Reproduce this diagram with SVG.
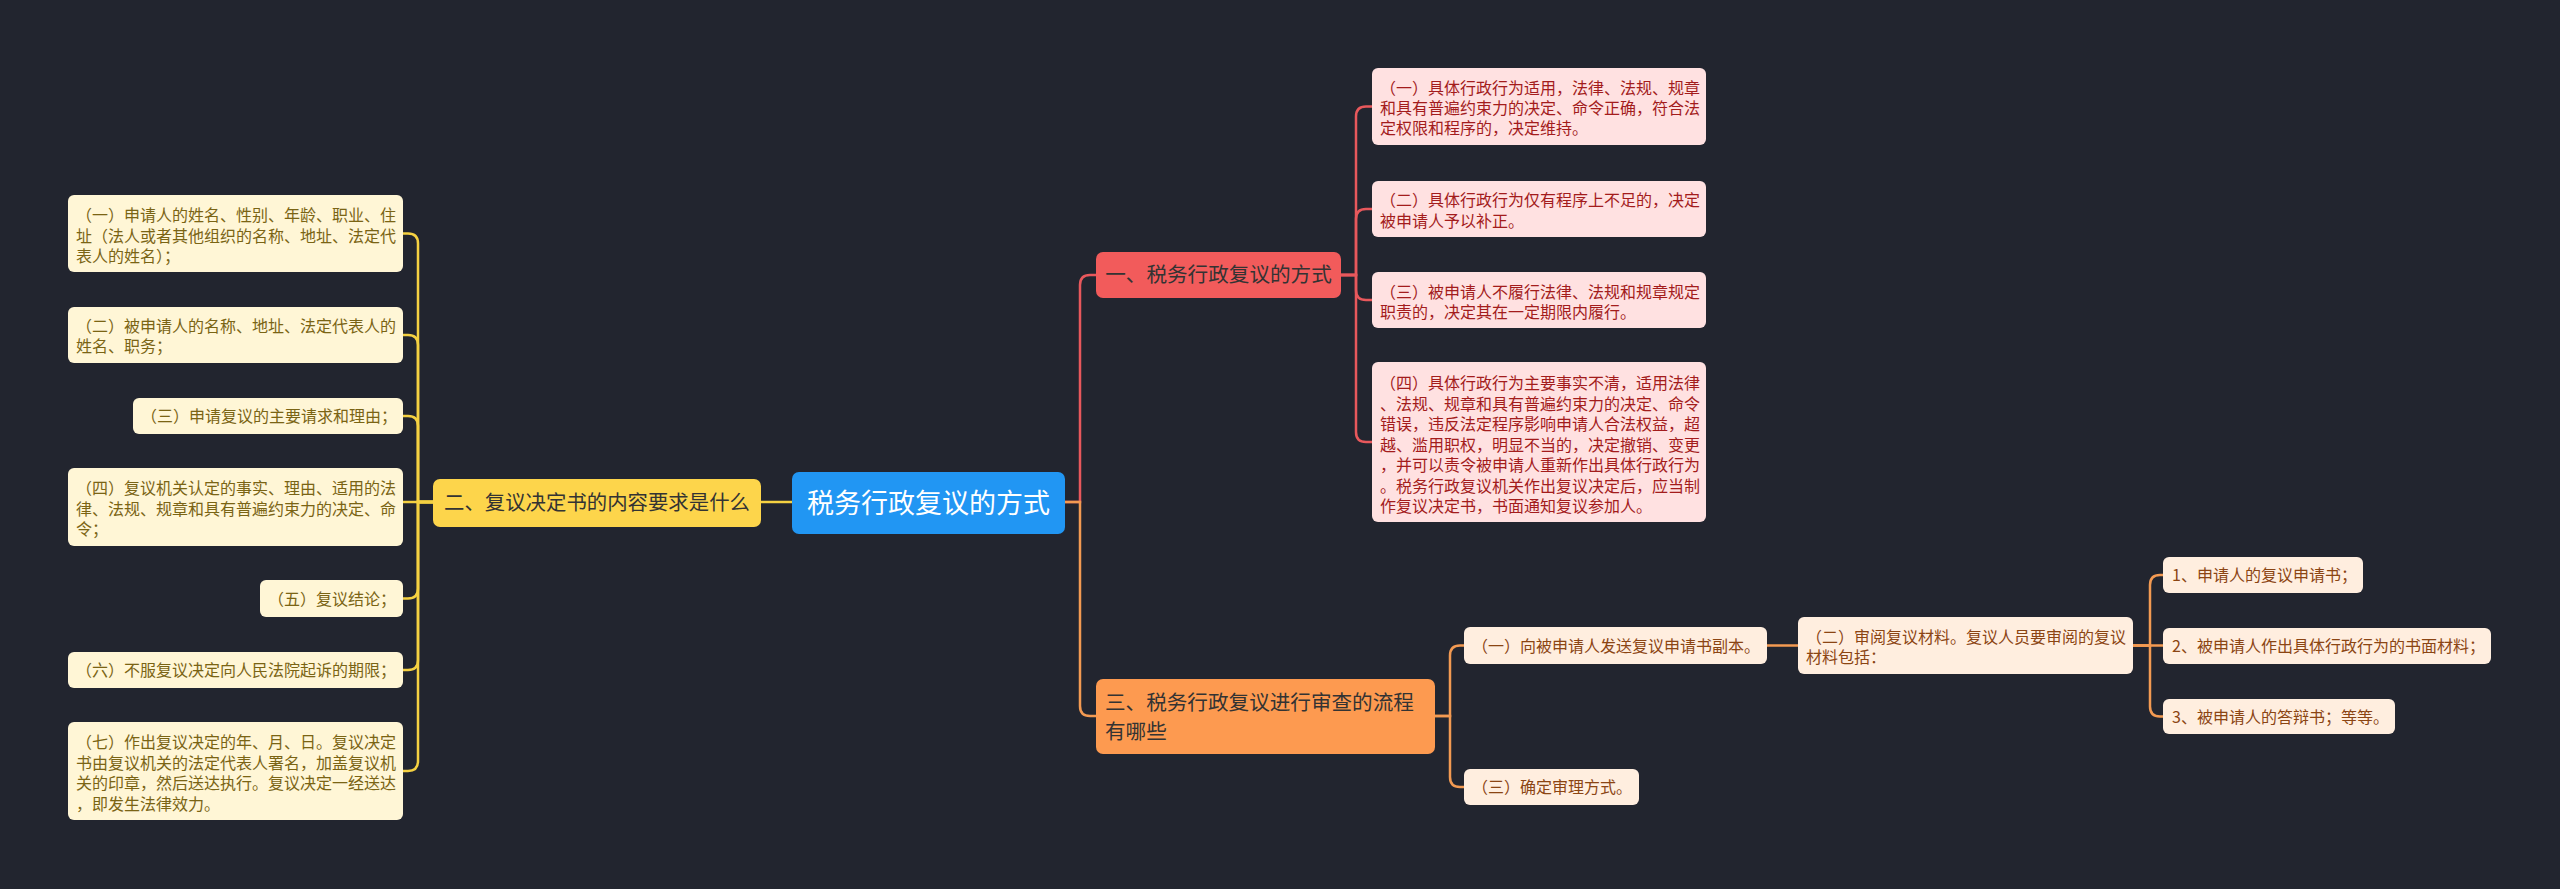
<svg xmlns="http://www.w3.org/2000/svg" width="2560" height="889" viewBox="0 0 2560 889">
<style>
text{font-family:"Noto Sans CJK SC","Noto Sans",sans-serif;}
.ly{fill:#fff6d6;}
.lr{fill:#ffe1e1;}
.lo{fill:#ffeedf;}
.ty{fill:#7a6414;font-size:16px;}
.tr{fill:#a31c1c;font-size:16px;}
.to{fill:#8b4513;font-size:16px;}
.cy{fill:none;stroke:#f5d142;stroke-width:2.5;}
.cr{fill:none;stroke:#e8585c;stroke-width:2.5;}
.co{fill:none;stroke:#f39a52;stroke-width:2.5;}
</style>
<rect x="0" y="0" width="2560" height="889" fill="#22252f"/>
<g id="connectors">
<path class="cy" d="M792,502 H761"/>
<path class="cy" d="M433,502 H418 V243.5 Q418,233.5 408,233.5 H403"/>
<path class="cy" d="M433,502 H418 V345 Q418,335 408,335 H403"/>
<path class="cy" d="M433,502 H418 V426 Q418,416 408,416 H403"/>
<path class="cy" d="M433,502 H403"/>
<path class="cy" d="M433,502 H418 V588.5 Q418,598.5 408,598.5 H403"/>
<path class="cy" d="M433,502 H418 V660 Q418,670 408,670 H403"/>
<path class="cy" d="M433,502 H418 V761 Q418,771 408,771 H403"/>
<path class="cr" d="M1065,502 H1080 V285 Q1080,275 1090,275 H1096"/>
<path class="co" d="M1065,502 H1080 V706 Q1080,716 1090,716 H1096"/>
<path class="cr" d="M1341,275 H1356 V116.5 Q1356,106.5 1366,106.5 H1372"/>
<path class="cr" d="M1341,275 H1356 V219 Q1356,209 1366,209 H1372"/>
<path class="cr" d="M1341,275 H1356 V290 Q1356,300 1366,300 H1372"/>
<path class="cr" d="M1341,275 H1356 V432 Q1356,442 1366,442 H1372"/>
<path class="co" d="M1435,716 H1450 V655.5 Q1450,645.5 1460,645.5 H1464"/>
<path class="co" d="M1435,716 H1450 V777 Q1450,787 1460,787 H1464"/>
<path class="co" d="M1767,645.5 H1798"/>
<path class="co" d="M2133,645.5 H2150 V585 Q2150,575 2160,575 H2163"/>
<path class="co" d="M2133,645.5 H2163"/>
<path class="co" d="M2133,645.5 H2150 V706.5 Q2150,716.5 2160,716.5 H2163"/>
</g>
<g id="root">
<rect x="792" y="472" width="273" height="62" rx="7" fill="#2196f3"/>
<text x="928.5" y="513" font-size="27" fill="#ffffff" text-anchor="middle">税务行政复议的方式</text>
</g>
<g id="b2">
<rect x="433" y="479" width="328" height="48" rx="7" fill="#fdd54b"/>
<text x="597" y="510" font-size="20.4" fill="#333333" text-anchor="middle">二、复议决定书的内容要求是什么</text>
</g>
<g id="b1">
<rect x="1096" y="252" width="245" height="46" rx="7" fill="#f25b5b"/>
<text x="1218.5" y="282" font-size="20.6" fill="#333333" text-anchor="middle">一、税务行政复议的方式</text>
</g>
<g id="b3">
<rect x="1096" y="679" width="339" height="75" rx="7" fill="#fd9a50"/>
<text x="1105" y="710" font-size="20.6" fill="#333333">三、税务行政复议进行审查的流程</text>
<text x="1105" y="739" font-size="20.6" fill="#333333">有哪些</text>
</g>
<g id="l1">
<rect class="ly" x="68" y="195" width="335" height="77" rx="6"/>
<text class="ty" x="76"><tspan x="76" y="221">（一）申请人的姓名、性别、年龄、职业、住</tspan><tspan x="76" y="241.5">址（法人或者其他组织的名称、地址、法定代</tspan><tspan x="76" y="262">表人的姓名）；</tspan></text>
</g>
<g id="l2">
<rect class="ly" x="68" y="307" width="335" height="56" rx="6"/>
<text class="ty"><tspan x="76" y="331.5">（二）被申请人的名称、地址、法定代表人的</tspan><tspan x="76" y="351.5">姓名、职务；</tspan></text>
</g>
<g id="l3">
<rect class="ly" x="133" y="398" width="270" height="36" rx="6"/>
<text class="ty" x="141" y="422">（三）申请复议的主要请求和理由；</text>
</g>
<g id="l4">
<rect class="ly" x="68" y="468" width="335" height="78" rx="6"/>
<text class="ty"><tspan x="76" y="494">（四）复议机关认定的事实、理由、适用的法</tspan><tspan x="76" y="514.5">律、法规、规章和具有普遍约束力的决定、命</tspan><tspan x="76" y="535">令；</tspan></text>
</g>
<g id="l5">
<rect class="ly" x="260" y="580" width="143" height="37" rx="6"/>
<text class="ty" x="268" y="604.5">（五）复议结论；</text>
</g>
<g id="l6">
<rect class="ly" x="68" y="652" width="335" height="36" rx="6"/>
<text class="ty" x="76" y="676">（六）不服复议决定向人民法院起诉的期限；</text>
</g>
<g id="l7">
<rect class="ly" x="68" y="722" width="335" height="98" rx="6"/>
<text class="ty"><tspan x="76" y="748">（七）作出复议决定的年、月、日。复议决定</tspan><tspan x="76" y="768.5">书由复议机关的法定代表人署名，加盖复议机</tspan><tspan x="76" y="789">关的印章，然后送达执行。复议决定一经送达</tspan><tspan x="76" y="809.5">，即发生法律效力。</tspan></text>
</g>
<g id="r1">
<rect class="lr" x="1372" y="68" width="334" height="77" rx="6"/>
<text class="tr"><tspan x="1380" y="94">（一）具体行政行为适用，法律、法规、规章</tspan><tspan x="1380" y="114">和具有普遍约束力的决定、命令正确，符合法</tspan><tspan x="1380" y="134">定权限和程序的，决定维持。</tspan></text>
</g>
<g id="r2">
<rect class="lr" x="1372" y="181" width="334" height="56" rx="6"/>
<text class="tr"><tspan x="1380" y="206">（二）具体行政行为仅有程序上不足的，决定</tspan><tspan x="1380" y="226.5">被申请人予以补正。</tspan></text>
</g>
<g id="r3">
<rect class="lr" x="1372" y="272" width="334" height="56" rx="6"/>
<text class="tr"><tspan x="1380" y="297.5">（三）被申请人不履行法律、法规和规章规定</tspan><tspan x="1380" y="318">职责的，决定其在一定期限内履行。</tspan></text>
</g>
<g id="r4">
<rect class="lr" x="1372" y="362" width="334" height="160" rx="6"/>
<text class="tr"><tspan x="1380" y="389">（四）具体行政行为主要事实不清，适用法律</tspan><tspan x="1380" y="409.5">、法规、规章和具有普遍约束力的决定、命令</tspan><tspan x="1380" y="430">错误，违反法定程序影响申请人合法权益，超</tspan><tspan x="1380" y="450.5">越、滥用职权，明显不当的，决定撤销、变更</tspan><tspan x="1380" y="471">，并可以责令被申请人重新作出具体行政行为</tspan><tspan x="1380" y="491.5">。税务行政复议机关作出复议决定后，应当制</tspan><tspan x="1380" y="512">作复议决定书，书面通知复议参加人。</tspan></text>
</g>
<g id="o1">
<rect class="lo" x="1464" y="627" width="303" height="37" rx="6"/>
<text class="to" x="1472" y="651.5">（一）向被申请人发送复议申请书副本。</text>
</g>
<g id="o3">
<rect class="lo" x="1464" y="769" width="175" height="36" rx="6"/>
<text class="to" x="1472" y="793">（三）确定审理方式。</text>
</g>
<g id="o2">
<rect class="lo" x="1798" y="617" width="335" height="57" rx="6"/>
<text class="to"><tspan x="1806" y="643">（二）审阅复议材料。复议人员要审阅的复议</tspan><tspan x="1806" y="663">材料包括：</tspan></text>
</g>
<g id="g1">
<rect class="lo" x="2163" y="557" width="200" height="36" rx="6"/>
<text class="to" x="2172" y="581">1、申请人的复议申请书；</text>
</g>
<g id="g2">
<rect class="lo" x="2163" y="628" width="328" height="36" rx="6"/>
<text class="to" x="2172" y="652">2、被申请人作出具体行政行为的书面材料；</text>
</g>
<g id="g3">
<rect class="lo" x="2163" y="699" width="232" height="35" rx="6"/>
<text class="to" x="2172" y="722.5">3、被申请人的答辩书；等等。</text>
</g>
</svg>
